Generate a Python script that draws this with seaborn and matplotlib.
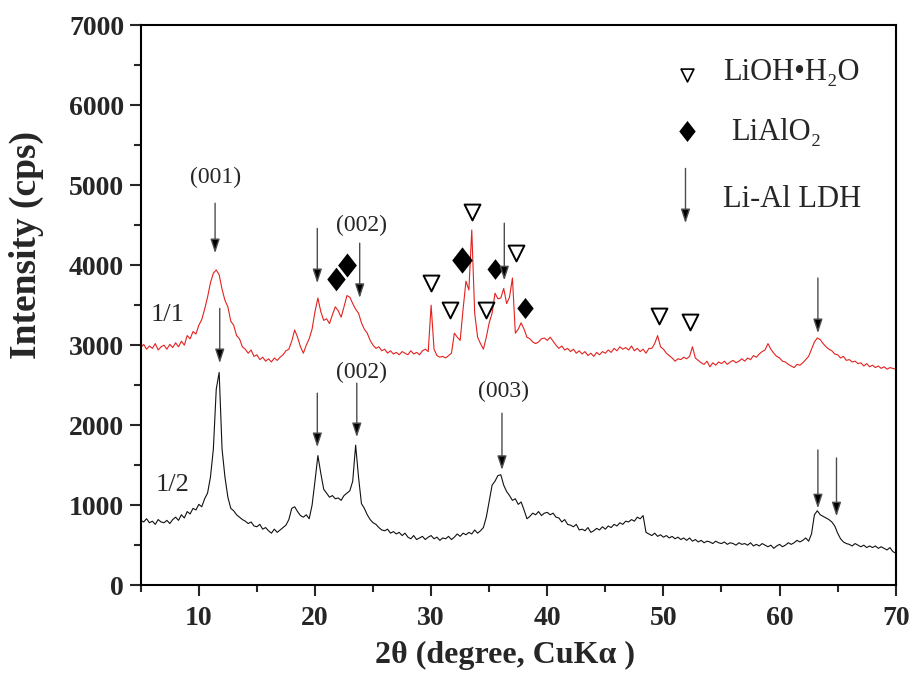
import numpy as np
import pandas as pd
import seaborn as sns
import matplotlib.pyplot as plt
from matplotlib.path import Path
from matplotlib.ticker import MultipleLocator

# 2theta grid, 0.25 deg step
two_theta = np.arange(5, 70.001, 0.25)

# sample 1/1 (red, offset)
i_11 = [
    2970, 3010, 2950, 2990, 2960, 3020, 2940, 2980, 3000, 2950, 3010, 2970, 3030, 2980, 3050, 3000, 3120, 3080, 3170, 3140,
    3250, 3320, 3450, 3600, 3780, 3900, 3940, 3880, 3700, 3560, 3480, 3300, 3250, 3120, 3080, 2980, 2950, 2900, 2940, 2860,
    2880, 2820, 2850, 2800, 2830, 2790, 2840, 2810, 2850, 2880, 2930, 2950, 3050, 3190, 3100, 2980, 2900, 3000, 3080, 3200,
    3420, 3590, 3420, 3310, 3330, 3270, 3380, 3480, 3430, 3350, 3480, 3620, 3600, 3520, 3450, 3400, 3280, 3200, 3150, 3060,
    3000, 2960, 2980, 2930, 2950, 2900, 2930, 2890, 2910, 2880, 2920, 2900, 2880, 2930, 2890, 2910, 2880, 2930, 2950, 2920,
    3500, 2950, 2870, 2850, 2860, 2840, 2870, 2900, 3150, 3100, 3060, 3450, 3800, 3690, 4440, 3400, 3100, 3020, 2950, 3100,
    3280, 3400, 3650, 3580, 3590, 3710, 3520, 3600, 3840, 3150, 3200, 3280, 3200, 3100, 3080, 3040, 3020, 3040, 3080, 3090,
    3060, 3100, 3050, 3000, 2960, 2990, 2940, 2960, 2920, 2950, 2900, 2930, 2890, 2920, 2870, 2900, 2860, 2910, 2880, 2920,
    2900, 2940, 2910, 2960, 2930, 2980, 2950, 2970, 2940, 2990, 2930, 2960, 2920, 2950, 2900, 2960, 2960, 3020, 3120, 2980,
    2950, 2900, 2870, 2840, 2800, 2830, 2820, 2850, 2830, 2860, 2980, 2840, 2810, 2780, 2760, 2800, 2730, 2780, 2750, 2790,
    2770, 2800, 2760, 2790, 2810, 2780, 2800, 2830, 2800, 2840, 2820, 2870, 2850, 2890, 2920, 2940, 3020, 2950, 2900, 2860,
    2840, 2800, 2790, 2760, 2740, 2720, 2760, 2750, 2780, 2820, 2860, 2950, 3040, 3090, 3070, 3020, 2980, 2950, 2930, 2890,
    2880, 2840, 2860, 2810, 2820, 2790, 2800, 2770, 2780, 2740, 2770, 2730, 2750, 2720, 2740, 2710, 2730, 2700, 2720, 2710,
    2700,
]

# sample 1/2 (black)
i_12 = [
    810, 790, 830, 780, 800, 760, 820, 790, 780, 810, 770, 820, 850, 810, 880, 840, 920, 890, 960, 940,
    1010, 980, 1080, 1150, 1350, 1700, 2450, 2660, 1700, 1350, 1100, 960, 930, 880, 850, 820, 800, 770, 790, 740,
    730, 760, 700, 720, 680, 650, 700, 660, 690, 720, 750, 820, 960, 980, 920, 870, 850, 880, 830, 1000,
    1300, 1620, 1400, 1200, 1150, 1100, 1120, 1080, 1090, 1060, 1120, 1150, 1180, 1300, 1750, 1350, 1020, 960, 880, 820,
    780, 760, 720, 690, 680, 700, 650, 670, 640, 660, 620, 650, 600, 580, 620, 570, 590, 610, 570, 600,
    620, 580, 600, 560, 590, 580, 610, 570, 600, 640, 610, 650, 630, 660, 640, 690, 650, 680, 720, 850,
    1050, 1250, 1300, 1370, 1380, 1250, 1170, 1120, 1060, 1080, 1010, 1040, 940, 830, 860, 900, 880, 920, 870, 900,
    910, 880, 900, 850, 840, 790, 820, 760, 750, 730, 760, 690, 700, 680, 720, 660, 680, 710, 690, 730,
    700, 740, 720, 760, 740, 780, 760, 800, 790, 820, 800, 850, 830, 870, 660, 640, 620, 650, 610, 630,
    600, 620, 590, 610, 580, 600, 570, 590, 560, 590, 550, 570, 540, 560, 530, 550, 540, 520, 550, 530,
    520, 540, 510, 530, 520, 500, 530, 510, 520, 500, 530, 490, 510, 490, 520, 500, 480, 500, 460, 490,
    510, 480, 500, 530, 510, 530, 560, 540, 560, 590, 550, 640, 880, 930, 880, 860, 840, 820, 790, 740,
    650, 580, 540, 520, 510, 490, 520, 500, 480, 500, 470, 490, 470, 490, 460, 480, 460, 440, 470, 420,
    400,
]

# peak markers
lioh_x = [30.0, 31.6, 33.5, 34.7, 37.3, 49.6, 52.3]
lioh_y = [3775, 3440, 4660, 3440, 4150, 3360, 3290]
lialo2_x = [21.8, 22.8, 32.7, 35.5, 38.1]
lialo2_y = [3825, 4000, 4060, 3950, 3460]
lialo2_s = [290, 300, 360, 220, 230]

# LDH arrows: x, top, tip
ldh_x = [11.4, 20.2, 23.85, 36.3, 63.3, 11.8, 20.2, 23.6, 36.1, 63.3, 64.9]
ldh_top = [4775, 4460, 4275, 4525, 3840, 3460, 2400, 2525, 2150, 1690, 1590]
ldh_tip = [4150, 3775, 3590, 3810, 3150, 2775, 1725, 1850, 1440, 960, 860]

hkl_text = ['(001)', '(002)', '(002)', '(003)']
hkl_x = [11.4, 24.0, 24.0, 36.25]
hkl_y = [5100, 4500, 2660, 2420]

samples = ['1/1', '1/2']
sample_x = [7.3, 7.7]
sample_y = [3375, 1250]

df = pd.DataFrame({
    '2theta': np.concatenate([two_theta, two_theta]),
    'intensity': i_11 + i_12,
    'sample': ['1/1'] * len(i_11) + ['1/2'] * len(i_12),
})

sns.set_style('ticks')
plt.rcParams['font.family'] = ['Liberation Serif', 'DejaVu Serif']
plt.rcParams['axes.linewidth'] = 1.5

fig = plt.figure(figsize=(9.14, 6.82), dpi=100)
ax = fig.add_axes([0.154, 0.142, 0.826, 0.821])

sns.lineplot(data=df, x='2theta', y='intensity', hue='sample',
             palette={'1/1': '#e3221f', '1/2': '#111111'},
             estimator=None, sort=False, lw=0.8, legend=False, ax=ax)

# diamond marker a bit taller than wide
diamond = Path([(0, 1), (0.78, 0), (0, -1), (-0.78, 0), (0, 1)],
               [Path.MOVETO, Path.LINETO, Path.LINETO, Path.LINETO, Path.CLOSEPOLY])

sns.scatterplot(x=lioh_x, y=lioh_y, marker='v', s=130, facecolor='white',
                edgecolor='black', linewidth=1.4, ax=ax, zorder=5)
for xx, yy, ss in zip(lialo2_x, lialo2_y, lialo2_s):
    sns.scatterplot(x=[xx], y=[yy], marker=diamond, s=ss, color='black',
                    edgecolor='black', linewidth=0, ax=ax, zorder=5)

arrow_kw = dict(arrowstyle='-|>,head_length=0.85,head_width=0.28', fc='black',
                ec='0.3', lw=1.0, shrinkA=0, shrinkB=0, mutation_scale=10)
for xx, y0, y1 in zip(ldh_x, ldh_top, ldh_tip):
    ax.annotate('', xy=(xx, y1), xytext=(xx, y0), arrowprops=arrow_kw, zorder=6)

for t, xx, yy in zip(hkl_text, hkl_x, hkl_y):
    ax.text(xx, yy, t, ha='center', va='center', fontsize=17)
for t, xx, yy in zip(samples, sample_x, sample_y):
    ax.text(xx, yy, t, ha='center', va='center', fontsize=19)

# legend drawn by hand as in the original
sns.scatterplot(x=[52.0], y=[6375], marker='v', s=85, facecolor='white',
                edgecolor='black', linewidth=1.2, ax=ax)
ax.text(55.1, 6410, 'LiOH•H₂O', va='center', ha='left', fontsize=22)
sns.scatterplot(x=[52.0], y=[5675], marker=diamond, s=230, color='black', linewidth=0, ax=ax)
ax.text(55.8, 5660, 'LiAlO₂', va='center', ha='left', fontsize=22)
ax.annotate('', xy=(51.9, 4525), xytext=(51.9, 5210), arrowprops=arrow_kw)
ax.text(55.1, 4825, 'Li-Al LDH', va='center', ha='left', fontsize=22)

ax.set_xlim(5, 70)
ax.set_ylim(0, 7000)
ax.xaxis.set_major_locator(MultipleLocator(10))
ax.xaxis.set_minor_locator(MultipleLocator(5))
ax.yaxis.set_major_locator(MultipleLocator(1000))
ax.yaxis.set_minor_locator(MultipleLocator(500))
ax.tick_params(which='major', direction='out', length=8, width=1.5, pad=4,
               labelsize=20, top=False, right=False)
ax.tick_params(axis='x', which='major', pad=7)
ax.tick_params(which='minor', direction='out', length=5, width=1.5, top=False, right=False)
for lab in ax.get_xticklabels() + ax.get_yticklabels():
    lab.set_fontweight('bold')
ax.set_xticks([10, 20, 30, 40, 50, 60, 70])
ax.set_xticklabels(['10', '20', '30', '40', '50', '60', '70'], fontweight='bold')

ax.set_xlabel('2θ (degree, CuKα )', fontsize=23, fontweight='bold')
ax.set_ylabel('Intensity (cps)', fontsize=27, fontweight='bold')
ax.xaxis.set_label_coords(0.482, -0.125)
ax.yaxis.set_label_coords(-0.151, 0.607)
ax.xaxis.label.set_va('center')
ax.yaxis.label.set_va('center')

for sp in ax.spines.values():
    sp.set_visible(True)
    sp.set_linewidth(1.5)
    sp.set_color('black')

fig.savefig('out.png', dpi=100)
